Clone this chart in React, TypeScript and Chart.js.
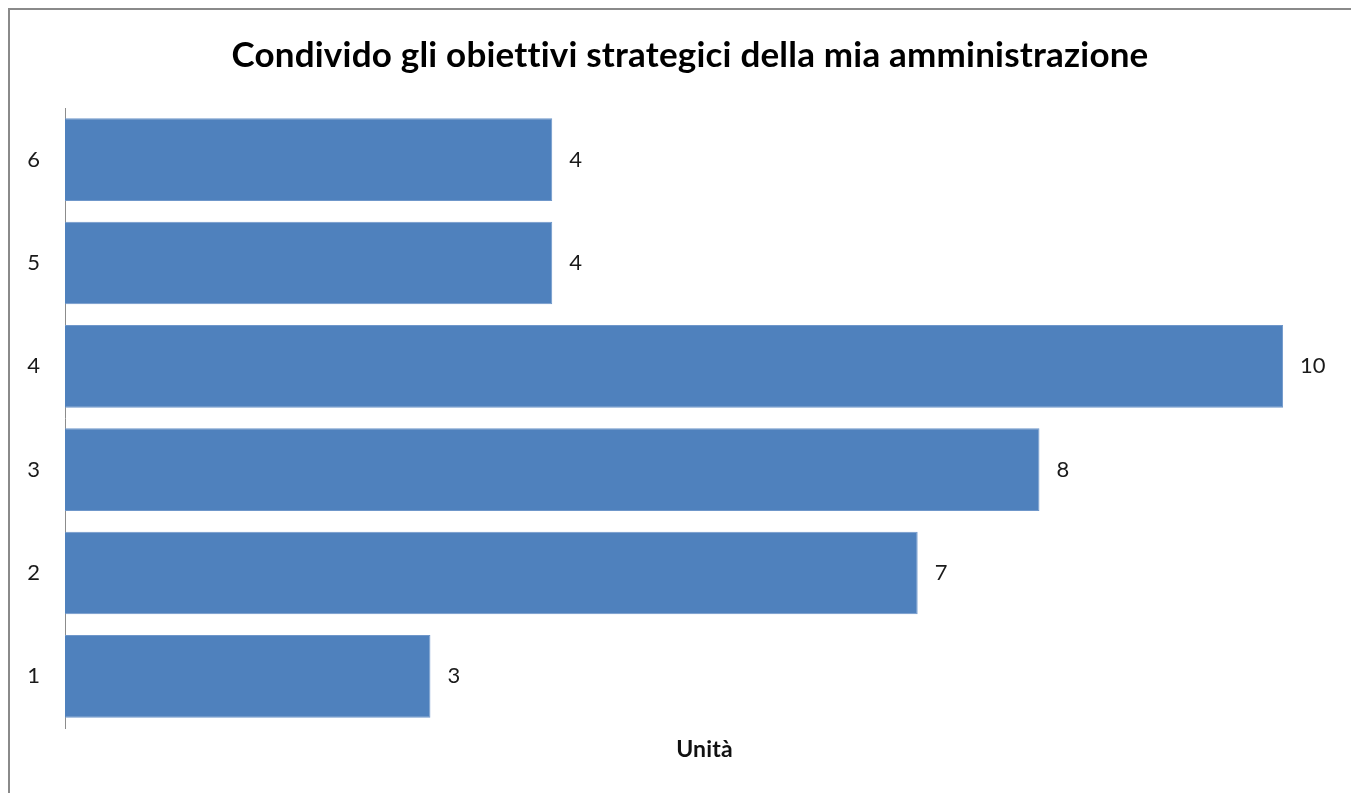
import React, { useEffect, useRef } from "react";
import { Chart, registerables } from "chart.js";

Chart.register(...registerables);

const categories = ["1", "2", "3", "4", "5", "6"];
const values = [3, 7, 8, 10, 4, 4];
const chartTitle = "Condivido gli obiettivi strategici della mia amministrazione";
const axisTitle = "Unità";

const FONT = "Lato, 'Open Sans', sans-serif";

export default function App() {
  const ref = useRef<HTMLCanvasElement | null>(null);

  useEffect(() => {
    document.documentElement.style.overflow = "hidden";
    if (!ref.current) return;
    const labelsPlugin = {
      id: "customText",
      afterDraw(chart: any) {
        const ctx = chart.ctx;
        const area = chart.chartArea;
        ctx.save();
        try {
          (ctx as any).letterSpacing = "0.2px";
        } catch (e) {}
        // Title
        ctx.fillStyle = "#000000";
        ctx.font = `bold 35px ${FONT}`;
        ctx.textAlign = "center";
        ctx.textBaseline = "middle";
        ctx.fillText(chartTitle, 680, 46);
        // Axis title
        ctx.font = `bold 23px ${FONT}`;
        ctx.fillStyle = "#111111";
        ctx.fillText(axisTitle, (area.left + area.right) / 2, area.bottom + 22);
        // Value labels
        try {
          (ctx as any).letterSpacing = "0px";
        } catch (e) {}
        ctx.font = `22px ${FONT}`;
        ctx.fillStyle = "#1a1a1a";
        ctx.textAlign = "left";
        const meta = chart.getDatasetMeta(0);
        meta.data.forEach((bar: any, i: number) => {
          ctx.fillText(String(values[i]), bar.x + 17, bar.y);
        });
        ctx.restore();
      },
    };

    const chart = new Chart(ref.current, {
      type: "bar",
      data: {
        labels: categories,
        datasets: [
          {
            data: values,
            backgroundColor: "#4F81BD",
            borderColor: "#6F97CA",
            borderWidth: 1,
            categoryPercentage: 1,
            barPercentage: 0.8,
          },
        ],
      },
      options: {
        indexAxis: "y",
        responsive: false,
        animation: false,
        layout: { padding: { top: 98, bottom: 65, right: 15, left: 0 } },
        plugins: {
          legend: { display: false },
          title: { display: false },
          tooltip: { enabled: false },
        },
        scales: {
          x: {
            display: false,
            min: 0,
            max: 10.5,
          },
          y: {
            reverse: true,
            grid: { display: false, drawTicks: false },
            border: { display: true, color: "#8c8c8c", width: 1 },
            ticks: {
              color: "#1a1a1a",
              font: { family: FONT, size: 22 },
              padding: 25,
            },
            afterFit(scale: any) {
              scale.width = 55;
            },
          },
        },
      },
      plugins: [labelsPlugin],
    });
    return () => chart.destroy();
  }, []);

  return (
    <div
      style={{
        width: 1360,
        height: 785,
        borderTop: "2px solid #8a8a8a",
        borderLeft: "2px solid #8a8a8a",
        boxSizing: "border-box",
        background: "#ffffff",
        overflow: "hidden",
      }}
    >
      <canvas ref={ref} width={1349} height={783} style={{ display: "block" }} />
    </div>
  );
}
